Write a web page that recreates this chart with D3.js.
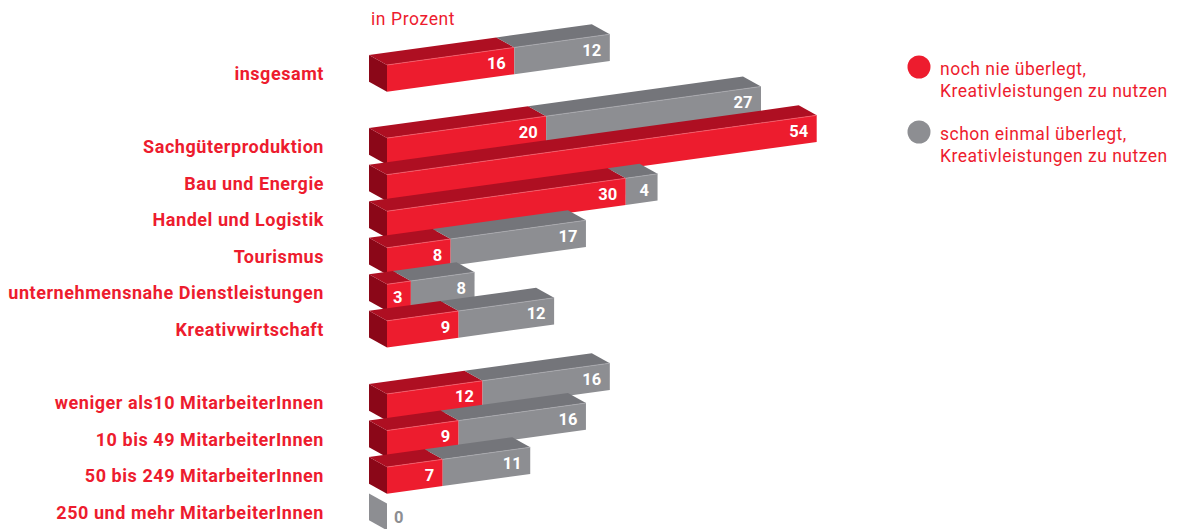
<!DOCTYPE html>
<html>
<head>
<meta charset="utf-8">
<script src="https://cdn.jsdelivr.net/npm/d3@7"></script>
<style>
  body { margin: 0; background: #fff; }
  svg { display: block; }
  text { font-family: Roboto, "DejaVu Sans", sans-serif; }
</style>
</head>
<body>
<svg id="chart" width="1182" height="529"></svg>
<script>
// Category groups (blank rows separate the groups)
const totalGroup = ["insgesamt"];
const sectorGroup = ["Sachgüterproduktion", "Bau und Energie", "Handel und Logistik", "Tourismus",
  "unternehmensnahe Dienstleistungen", "Kreativwirtschaft"];
const sizeGroup = ["weniger als10 MitarbeiterInnen", "10 bis 49 MitarbeiterInnen",
  "50 bis 249 MitarbeiterInnen", "250 und mehr MitarbeiterInnen"];
const categories = [...totalGroup, ...sectorGroup, ...sizeGroup];

// Series values, in percent
const neverValues      = [16, 20, 54, 30, 8, 3, 9, 12, 9, 7, 0];
const consideredValues = [12, 27, 0, 4, 17, 8, 12, 16, 16, 11, 0];

const seriesNames = [
  ["noch nie überlegt,", "Kreativleistungen zu nutzen"],
  ["schon einmal überlegt,", "Kreativleistungen zu nutzen"]
];
const unitLabel = "in Prozent";

// Colours
const RED = "#ed1c2e", RED_TOP = "#ae0f22", RED_SIDE = "#8b0718";
const GREY = "#8d8e92", GREY_TOP = "#74757a";

const svg = d3.select("#chart");

const slots = [...totalGroup, "__gap1", ...sectorGroup, "__gap2", ...sizeGroup];
const y = d3.scaleBand().domain(slots).range([65, 65 + slots.length * 36.55]).paddingInner(0).paddingOuter(0);
const x = d3.scaleLinear().domain([0, 54]).range([387, 816.7]);

const H = 26.7;           // front face height
const DX = -18, DY = -10; // depth of the box
const SLOPE = -0.138;     // oblique tilt of the bars
const tilt = px => SLOPE * (px - x(0));

const poly = pts => "M" + pts.map(p => p.join(",")).join("L") + "Z";

const rows = categories.map((c, i) => ({ cat: c, never: neverValues[i], considered: consideredValues[i] }));

const gBars = svg.append("g");
rows.forEach(r => {
  const top = y(r.cat);
  const a = x(0), b = x(r.never), c = x(r.never + r.considered);
  const g = gBars.append("g");
  const empty = r.never + r.considered === 0;

  // left side face
  g.append("path")
    .attr("d", poly([[a, top], [a + DX, top + DY], [a + DX, top + DY + H], [a, top + H]]))
    .attr("fill", empty ? GREY : (r.never > 0 ? RED_SIDE : GREY_TOP));

  const segs = [];
  if (r.never > 0) segs.push({ x0: a, x1: b, top: RED_TOP, front: RED, v: r.never });
  if (r.considered > 0) segs.push({ x0: b, x1: c, top: GREY_TOP, front: GREY, v: r.considered });

  segs.forEach(s => {
    g.append("path")
      .attr("d", poly([[s.x0, top + tilt(s.x0)], [s.x1, top + tilt(s.x1)],
        [s.x1 + DX, top + tilt(s.x1) + DY], [s.x0 + DX, top + tilt(s.x0) + DY]]))
      .attr("fill", s.top);
  });
  segs.forEach(s => {
    g.append("path")
      .attr("d", poly([[s.x0, top + tilt(s.x0)], [s.x1, top + tilt(s.x1)],
        [s.x1, top + tilt(s.x1) + H], [s.x0, top + tilt(s.x0) + H]]))
      .attr("fill", s.front);
    // light edge between top and front
    g.append("line")
      .attr("x1", s.x0).attr("y1", top + tilt(s.x0))
      .attr("x2", s.x1).attr("y2", top + tilt(s.x1))
      .attr("stroke", s.front === RED ? "#f2606c" : "#a9aaae")
      .attr("stroke-width", 0.8);
  });
  segs.forEach(s => {
    const lx = s.x1 - 8.5;
    g.append("text")
      .attr("x", lx)
      .attr("y", top + H / 2 + tilt(lx - 9))
      .attr("dy", "0.36em")
      .attr("text-anchor", "end")
      .attr("fill", "#fff")
      .attr("font-weight", 700)
      .attr("font-size", 16.5)
      .text(s.v);
  });
  if (empty) {
    g.append("text")
      .attr("x", a + 7)
      .attr("y", top + H / 2)
      .attr("dy", "0.36em")
      .attr("fill", GREY)
      .attr("font-weight", 700)
      .attr("font-size", 16.5)
      .text(0);
  }
});

// category labels
svg.append("g").selectAll("text").data(categories).join("text")
  .attr("x", 324)
  .attr("y", d => y(d) + 15)
  .attr("text-anchor", "end")
  .attr("fill", RED)
  .attr("font-weight", 700)
  .attr("font-size", 18)
  .attr("letter-spacing", 0.55)
  .text(d => d);

svg.append("text")
  .attr("x", 371).attr("y", 25)
  .attr("fill", RED).attr("font-size", 17.5)
  .attr("letter-spacing", 0.6)
  .text(unitLabel);

// legend
const legend = svg.append("g");
[[RED, 67], [GREY, 132]].forEach(([col, cy], i) => {
  legend.append("circle").attr("cx", 919).attr("cy", cy).attr("r", 11.5).attr("fill", col);
  seriesNames[i].forEach((line, j) => {
    legend.append("text")
      .attr("x", 940).attr("y", cy + 8 + j * 21.5)
      .attr("fill", RED).attr("font-size", 17.5)
      .attr("letter-spacing", 0.5)
      .text(line);
  });
});
</script>
</body>
</html>
